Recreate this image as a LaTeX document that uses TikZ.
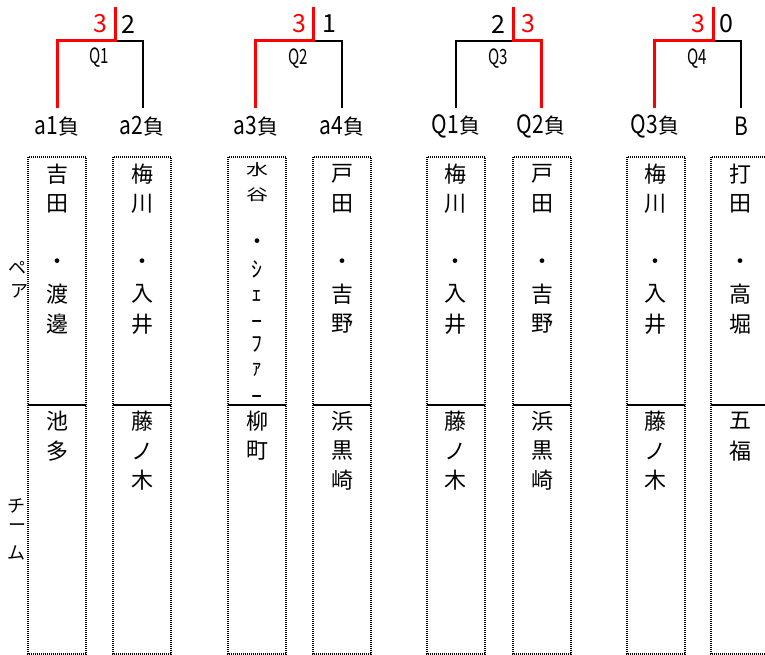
\documentclass[tikz,border=0pt]{standalone}
\usepackage{fontspec}
\setmainfont{Noto Sans CJK JP}
\usepackage{graphicx}
\tikzset{
  win/.style={red, line width=3pt, line join=miter},
  lose/.style={black, line width=1.8pt, line join=miter},
  cellbox/.style={draw=black, line width=1.5pt, dash pattern=on 1pt off 1pt},
  ch/.style={inner sep=0pt, font=\fontsize{22}{22}\selectfont},
  chsmall/.style={inner sep=0pt, font=\fontsize{22}{22}\selectfont},
  side/.style={inner sep=0pt, font=\fontsize{18}{18}\selectfont},
  lbl/.style={inner sep=0pt, font=\fontsize{21}{21}\selectfont},
  score/.style={inner sep=0pt, font=\fontsize{25}{25}\selectfont},
  qlbl/.style={inner sep=0pt, font=\fontsize{21}{21}\selectfont},
}
\newcommand\vstack[3]{%
  \foreach \p/\c [count=\i] in {#3} {\node[ch] (#1-\i) at (#2,\p) {\c};}}
\newcommand\tallnum[1]{\scalebox{1}[1.2]{#1}}
\begin{document}
\begin{tikzpicture}[x=1pt,y=-1pt]
\useasboundingbox (0,0) rectangle (765,655);
\fill[white] (0,0) rectangle (765,655);

% ---- boxes ----
\foreach \n/\l in {1/28,2/113,3/228,4/313,5/427,6/513,7/627,8/711} {
  \draw[cellbox] (\l,157) rectangle (\l+58,405);
  \draw[cellbox] (\l,405) rectangle (\l+58,654);
}

% ---- side labels ----
\node[side] (s1) at (17.5,268) {ペ};
\node[side] (s2) at (19,291) {ア};
\node[side] (s3) at (17,506) {チ};
\node[side] (s4) at (17.5,528) {ー};
\node[side] (s5) at (17,553) {ム};

% ---- pair texts ----
\vstack{p1}{57}{174/吉,204/田,264/・,294/渡,324/邊}
\vstack{p2}{142}{174/梅,204/川,264/・,294/入,324/井}
\node[chsmall] (p3-1) at (257,170) {\scalebox{1}[0.7]{水}};
\node[chsmall] (p3-2) at (257,195) {\scalebox{1}[0.7]{谷}};
\node[chsmall] (p3-3) at (257,244) {・};
\node[chsmall] (p3-4) at (257,269) {ｼ};
\node[chsmall] (p3-5) at (257,296) {ｪ};
\node[chsmall] (p3-6) at (257,325) {ｰ};
\node[chsmall] (p3-7) at (257,344) {ﾌ};
\node[chsmall] (p3-8) at (257,370) {ｧ};
\node[chsmall] (p3-9) at (257,400) {ｰ};
\vstack{p4}{342}{174/戸,204/田,264/・,294/吉,324/野}
\vstack{p5}{455.5}{174/梅,204/川,264/・,294/入,324/井}
\vstack{p6}{542}{174/戸,204/田,264/・,294/吉,324/野}
\vstack{p7}{655.5}{174/梅,204/川,264/・,294/入,324/井}
\vstack{p8}{740}{174/打,204/田,264/・,294/高,324/堀}

% ---- team texts ----
\vstack{t1}{57}{421/池,451/多}
\vstack{t2}{142}{421/藤,451/ノ,480/木}
\vstack{t3}{257}{421/柳,451/町}
\vstack{t4}{342}{421/浜,451/黒,480/崎}
\vstack{t5}{455.5}{421/藤,451/ノ,480/木}
\vstack{t6}{542}{421/浜,451/黒,480/崎}
\vstack{t7}{655.5}{421/藤,451/ノ,480/木}
\vstack{t8}{740}{421/五,451/福}

% ---- bracket labels ----
\node[lbl] (a1) at (57,126) {\tallnum{a1}負};
\node[lbl] (a2) at (142,126) {\tallnum{a2}負};
\node[lbl] (a3) at (256,126) {\tallnum{a3}負};
\node[lbl] (a4) at (342,126) {\tallnum{a4}負};
\node[lbl] (b1) at (456,126) {\tallnum{Q1}負};
\node[lbl] (b2) at (541,126) {\tallnum{Q2}負};
\node[lbl] (b3) at (655,126) {\tallnum{Q3}負};
\node[lbl] (b4) at (741,126) {\tallnum{B}};

% ---- bracket coordinates ----
\coordinate (a1b) at (57,108);  \coordinate (a2b) at (143,108);
\coordinate (q1c) at (115,41);  \coordinate (q1t) at (115,7);
\coordinate (a3b) at (255,108); \coordinate (a4b) at (342,108);
\coordinate (q2c) at (313,41);  \coordinate (q2t) at (313,7);
\coordinate (b1b) at (456,108); \coordinate (b2b) at (541,108);
\coordinate (q3c) at (513,41);  \coordinate (q3t) at (513,7);
\coordinate (b3b) at (654,108); \coordinate (b4b) at (741,108);
\coordinate (q4c) at (713,41);  \coordinate (q4t) at (713,7);

% losers (black)
\draw[lose] (q1c) -| (a2b);
\draw[lose] (q2c) -| (a4b);
\draw[lose] (q3c) -| (b1b);
\draw[lose] (q4c) -| (b4b);
% winners (red)
\draw[win] (a1b) |- (q1c) -- (q1t);
\draw[win] (a3b) |- (q2c) -- (q2t);
\draw[win] (b2b) |- (q3c) -- (q3t);
\draw[win] (b3b) |- (q4c) -- (q4t);

% ---- scores ----
\node[score,red] (s1l) at (100,24) {3};
\node[score] (s1r) at (128,24) {2};
\node[score,red] (s2l) at (299,24) {3};
\node[score] (s2r) at (329,24) {1};
\node[score] (s3l) at (498.5,24) {2};
\node[score,red] (s3r) at (528,24) {3};
\node[score,red] (s4l) at (698.5,24) {3};
\node[score] (s4r) at (726.5,24) {0};

% ---- match labels ----
\node[qlbl] (m1) at (99,58) {\scalebox{0.72}[1]{Q1}};
\node[qlbl] (m2) at (298,59) {\scalebox{0.72}[1]{Q2}};
\node[qlbl] (m3) at (498,59) {\scalebox{0.72}[1]{Q3}};
\node[qlbl] (m4) at (697,59) {\scalebox{0.72}[1]{Q4}};
\end{tikzpicture}
\end{document}
